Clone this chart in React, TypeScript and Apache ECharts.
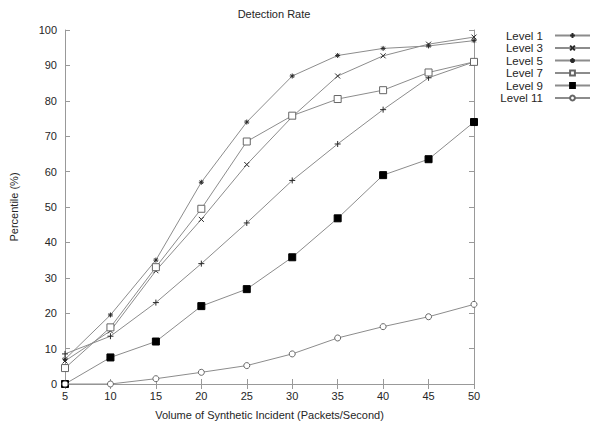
import React, { useEffect, useRef } from "react";
import * as echarts from "echarts";

const xValues = [5, 10, 15, 20, 25, 30, 35, 40, 45, 50];
const seriesNames = ["Level 1", "Level 3", "Level 5", "Level 7", "Level 9", "Level 11"];
const level1 = [8.5, 13.5, 23, 34, 45.5, 57.5, 67.8, 77.5, 86.5, 91];
const level3 = [6.5, 15, 32, 46.5, 62, 75.5, 87, 92.7, 96, 98];
const level5 = [7, 19.5, 35, 57, 74, 87, 92.8, 94.8, 95.5, 97];
const level7 = [4.5, 16, 33, 49.5, 68.5, 75.8, 80.5, 83, 88, 91];
const level9 = [0, 7.5, 12, 22, 26.8, 35.8, 46.8, 59, 63.5, 74];
const level11 = [0, 0, 1.5, 3.3, 5.2, 8.5, 13, 16.2, 19, 22.5];
const yTicks = [0, 10, 20, 30, 40, 50, 60, 70, 80, 90, 100];

const seriesData = [level1, level3, level5, level7, level9, level11];

const PLUS = "path://M0,5L10,5M5,0L5,10";
const CROSS = "path://M0,0L10,10M10,0L0,10";
const STAR = "path://M0,5L10,5M5,0L5,10M1.5,1.5L8.5,8.5M8.5,1.5L1.5,8.5";
const symbols = [PLUS, CROSS, STAR, "rect", "rect", "circle"];
const sizes = [6, 5, 5, 7, 7, 6];

export default function App() {
  const ref = useRef<HTMLDivElement>(null);
  useEffect(() => {
    if (!ref.current) return;
    const chart = echarts.init(ref.current, null, { renderer: "svg" });
    const font = "Liberation Sans, Arial, Helvetica, sans-serif";
    const lineColor = "#8c8c8c";
    const mark = "#2a2a2a";
    const txt = "#262626";
    const series = seriesNames.map((name, i) => {
      const filled = i === 4;
      const open = i === 3 || i === 5;
      return {
        name,
        type: "line",
        data: xValues.map((x, j) => [x, seriesData[i][j]]),
        symbol: symbols[i],
        symbolSize: sizes[i],
        showAllSymbol: true,
        lineStyle: { color: lineColor, width: 1 },
        itemStyle: {
          color: filled ? "#000" : open ? "#fff" : mark,
          borderColor: filled ? "#000" : i < 3 ? mark : "#666",
          borderWidth: 1,
        },
        emphasis: { disabled: true },
        z: 2 + i,
      };
    });
    const axisLine = { show: true, lineStyle: { color: "#999", width: 1 } };
    const tick = { show: true, inside: true, length: 5, lineStyle: { color: "#999" } };
    chart.setOption({
      animation: false,
      backgroundColor: "#fff",
      textStyle: { fontFamily: font, color: txt },
      title: {
        text: "Detection Rate",
        left: 269,
        textAlign: "center",
        top: 3,
        textStyle: { fontSize: 11, fontWeight: "normal", color: txt, fontFamily: font },
      },
      legend: {
        orient: "vertical",
        right: 0,
        top: 29.5,
        align: "right",
        itemWidth: 35,
        itemHeight: 6,
        itemGap: 0.5,
        padding: 0,
        textStyle: { fontSize: 11.5, lineHeight: 12, height: 12, color: txt, fontFamily: font, padding: [0, 7, 0, 0] },
        data: seriesNames,
      },
      grid: { left: 64, right: 117, top: 30, bottom: 40 },
      xAxis: [
        {
          type: "value",
          min: 5,
          max: 50,
          interval: 5,
          name: "Volume of Synthetic Incident (Packets/Second)",
          nameLocation: "middle",
          nameGap: 25,
          nameTextStyle: { fontSize: 11, color: txt, fontFamily: font },
          axisLine,
          axisTick: tick,
          axisLabel: { fontSize: 11, color: txt, margin: 6, fontFamily: font },
          splitLine: { show: false },
        },
        {
          type: "value",
          position: "top",
          min: 5,
          max: 50,
          interval: 5,
          axisLine,
          axisTick: tick,
          axisLabel: { show: false },
          splitLine: { show: false },
        },
      ],
      yAxis: [
        {
          type: "value",
          min: yTicks[0],
          max: yTicks[yTicks.length - 1],
          interval: 10,
          name: "Percentile (%)",
          nameLocation: "middle",
          nameGap: 46,
          nameTextStyle: { fontSize: 11, color: txt, fontFamily: font },
          axisLine,
          axisTick: tick,
          axisLabel: { fontSize: 11, color: txt, margin: 8, fontFamily: font },
          splitLine: { show: false },
        },
        {
          type: "value",
          position: "right",
          min: 0,
          max: 100,
          interval: 10,
          axisLine,
          axisTick: tick,
          axisLabel: { show: false },
          splitLine: { show: false },
        },
      ],
      series,
    });
    return () => chart.dispose();
  }, []);
  return <div ref={ref} style={{ width: 591, height: 425, position: "absolute", left: 0, top: 0 }} />;
}
